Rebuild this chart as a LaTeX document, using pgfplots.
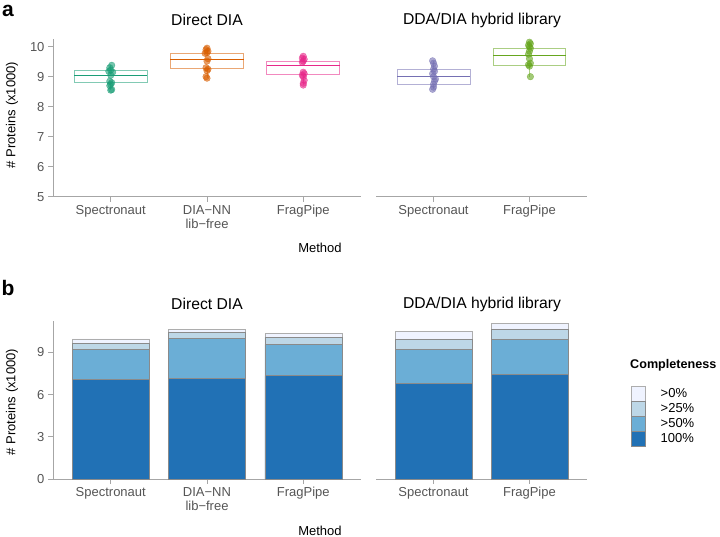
\documentclass[border=0pt]{standalone}
\usepackage{fontspec}
\setmainfont{Liberation Sans}
\usepackage{pgfplots}
\pgfplotsset{compat=1.18}

\definecolor{cS}{HTML}{1B9E77}
\definecolor{cD}{HTML}{D95F02}
\definecolor{cF}{HTML}{E7298A}
\definecolor{cSh}{HTML}{7570B3}
\definecolor{cFh}{HTML}{66A61E}
\definecolor{b100}{HTML}{2171B5}
\definecolor{b50}{HTML}{6BAED6}
\definecolor{b25}{HTML}{BDD7E7}
\definecolor{b0}{HTML}{EFF3FF}
\definecolor{axisgray}{HTML}{A6A6A6}
\definecolor{ticktext}{HTML}{555555}
\definecolor{bargray}{HTML}{8A8A8A}

\pgfplotsset{
  facet/.style={
    scale only axis, anchor=south west,
    axis x line=bottom, axis y line=left,
    axis line style={axisgray, -, line width=0.8pt},
    tick style={axisgray, line width=0.8pt},
    tick align=outside, major tick length=5pt,
    ticklabel style={font=\fontsize{13}{14}\selectfont, text=ticktext},
    xticklabel style={align=center},
    /pgf/number format/assume math mode=true,
    xmin=0.4, xtick={1,2,3},
    clip=false,
  },
  noy/.style={axis y line=none, ytick=\empty},
  pts/.style={only marks, mark=*, mark size=3.3pt,
    mark options={draw=#1, fill=#1, opacity=0.6}},
  box/.style={draw=#1!55, line width=0.9pt, mark=none},
  med/.style={draw=#1, line width=0.9pt, mark=none},
}

\begin{document}
\begin{tikzpicture}
\useasboundingbox (0pt,0pt) rectangle (720pt,537pt);

% ---------- panel a ----------
% box: quartiles, median line, whiskers to min/max
\begin{axis}[facet, at={(53pt,340.3pt)}, width=308pt, height=157.5pt,
    xmax=3.6, ymin=5, ymax=10.25, ytick={5,6,7,8,9,10},
    xticklabels={Spectronaut,{DIA−NN\\lib−free},FragPipe}]
% Spectronaut
\addplot[box=cS] coordinates {(0.62,8.81)(1.38,8.81)(1.38,9.20)(0.62,9.20)} -- cycle;
\addplot[box=cS] coordinates {(1,8.55)(1,8.81)};
\addplot[box=cS] coordinates {(1,9.20)(1,9.38)};
\addplot[med=cS] coordinates {(0.62,9.05)(1.38,9.05)};
\addplot[pts=cS] coordinates {
  (1.01,9.38)(0.99,9.30)(1.00,9.22)(0.98,9.18)(1.02,9.15)(1.00,9.05)
  (0.99,8.85)(1.01,8.80)(1.00,8.75)(0.99,8.70)(1.01,8.57)(1.00,8.55)};
% DIA-NN
\addplot[box=cD] coordinates {(1.62,9.27)(2.38,9.27)(2.38,9.78)(1.62,9.78)} -- cycle;
\addplot[box=cD] coordinates {(2,8.95)(2,9.27)};
\addplot[box=cD] coordinates {(2,9.78)(2,9.95)};
\addplot[med=cD] coordinates {(1.62,9.58)(2.38,9.58)};
\addplot[pts=cD] coordinates {
  (2.00,9.95)(1.99,9.90)(2.01,9.85)(2.00,9.80)(1.98,9.78)(2.01,9.60)
  (2.00,9.52)(1.99,9.30)(2.01,9.25)(2.00,9.20)(1.99,9.00)(2.00,8.95)};
% FragPipe
\addplot[box=cF] coordinates {(2.62,9.07)(3.38,9.07)(3.38,9.52)(2.62,9.52)} -- cycle;
\addplot[box=cF] coordinates {(3,8.72)(3,9.07)};
\addplot[box=cF] coordinates {(3,9.52)(3,9.68)};
\addplot[med=cF] coordinates {(2.62,9.36)(3.38,9.36)};
\addplot[pts=cF] coordinates {
  (3.00,9.68)(2.99,9.62)(3.01,9.58)(3.00,9.52)(2.99,9.48)(3.00,9.15)
  (3.01,9.10)(2.99,9.05)(3.00,9.00)(3.01,8.88)(3.00,8.78)(3.00,8.72)};
\end{axis}

\begin{axis}[facet, noy, at={(376pt,340.3pt)}, width=211pt, height=157.5pt,
    xmax=2.6, xtick={1,2}, ymin=5, ymax=10.25,
    xticklabels={Spectronaut,FragPipe}]
% Spectronaut (hybrid)
\addplot[box=cSh] coordinates {(0.62,8.75)(1.38,8.75)(1.38,9.25)(0.62,9.25)} -- cycle;
\addplot[box=cSh] coordinates {(1,8.58)(1,8.75)};
\addplot[box=cSh] coordinates {(1,9.25)(1,9.53)};
\addplot[med=cSh] coordinates {(0.62,9.02)(1.38,9.02)};
\addplot[pts=cSh] coordinates {
  (0.99,9.53)(1.00,9.45)(1.01,9.35)(1.00,9.25)(1.01,9.18)(0.99,9.10)
  (1.00,9.00)(1.02,8.92)(1.01,8.85)(1.00,8.75)(1.00,8.65)(0.99,8.58)};
% FragPipe (hybrid)
\addplot[box=cFh] coordinates {(1.62,9.37)(2.38,9.37)(2.38,9.94)(1.62,9.94)} -- cycle;
\addplot[box=cFh] coordinates {(2,9.00)(2,9.37)};
\addplot[box=cFh] coordinates {(2,9.94)(2,10.15)};
\addplot[med=cFh] coordinates {(1.62,9.72)(2.38,9.72)};
\addplot[pts=cFh] coordinates {
  (2.00,10.15)(2.01,10.10)(1.99,10.05)(2.00,10.00)(2.01,9.95)(2.00,9.85)
  (1.99,9.75)(2.00,9.60)(2.01,9.45)(1.99,9.40)(2.00,9.35)(2.01,9.00)};
\end{axis}

% ---------- panel b ----------
\begin{axis}[facet, at={(53pt,58pt)}, width=308pt, height=157.6pt,
    xmax=3.6, ymin=0, ymax=11.2, ytick={0,3,6,9},
    ybar stacked, bar width=0.8,
    xticklabels={Spectronaut,{DIA−NN\\lib−free},FragPipe}]
\addplot[fill=b100, draw=bargray, line width=0.5pt] coordinates {(1,7.10)(2,7.13)(3,7.34)};
\addplot[fill=b50, draw=bargray, line width=0.5pt] coordinates {(1,2.12)(2,2.87)(3,2.23)};
\addplot[fill=b25, draw=bargray, line width=0.5pt] coordinates {(1,0.42)(2,0.40)(3,0.50)};
\addplot[fill=b0, draw=bargray!70, line width=0.5pt] coordinates {(1,0.31)(2,0.24)(3,0.28)};
\end{axis}

\begin{axis}[facet, noy, at={(376pt,58pt)}, width=211pt, height=157.6pt,
    xmax=2.6, xtick={1,2}, ymin=0, ymax=11.2,
    ybar stacked, bar width=0.8,
    xticklabels={Spectronaut,FragPipe},
    reverse legend,
    legend image code/.code={\draw[#1] (0pt,-7.35pt) rectangle (14pt,7.35pt);},
    legend style={at={(axis description cs:1.2085,0.592)}, anchor=north west,
      draw=none, fill=none, inner sep=0pt, row sep=0pt, column sep=15pt,
      nodes={inner sep=0pt, anchor=west},
      font=\fontsize{13}{14}\selectfont},
    legend cell align=left]
\addplot[fill=b100, draw=bargray, line width=0.5pt] coordinates {(1,6.82)(2,7.41)};
\addplot[fill=b50, draw=bargray, line width=0.5pt] coordinates {(1,2.40)(2,2.52)};
\addplot[fill=b25, draw=bargray, line width=0.5pt] coordinates {(1,0.68)(2,0.68)};
\addplot[fill=b0, draw=bargray!70, line width=0.5pt] coordinates {(1,0.57)(2,0.43)};
\legend{100\%,>50\%,>25\%,>0\%}
\end{axis}

% ---------- texts ----------
\begin{scope}[font=\fontsize{15.7}{18}\selectfont]
\node at (207pt,517pt) {Direct DIA};
\node at (482pt,517pt) {DDA/DIA hybrid library};
\node at (207pt,233pt) {Direct DIA};
\node at (482pt,233pt) {DDA/DIA hybrid library};
\end{scope}
\begin{scope}[font=\fontsize{13}{15}\selectfont]
\node at (320pt,289pt) {Method};
\node at (320pt,6pt) {Method};
\node[rotate=90] at (12pt,422pt) {\# Proteins (x1000)};
\node[rotate=90] at (12pt,135pt) {\# Proteins (x1000)};
\end{scope}
\node[anchor=west, inner sep=0pt, font=\fontsize{12.6}{15}\selectfont\bfseries] at (630pt,172pt) {Completeness};
\node[font=\fontsize{21}{24}\selectfont\bfseries] at (8pt,526pt) {a};
\node[font=\fontsize{21}{24}\selectfont\bfseries] at (8pt,249pt) {b};
\end{tikzpicture}
\end{document}
